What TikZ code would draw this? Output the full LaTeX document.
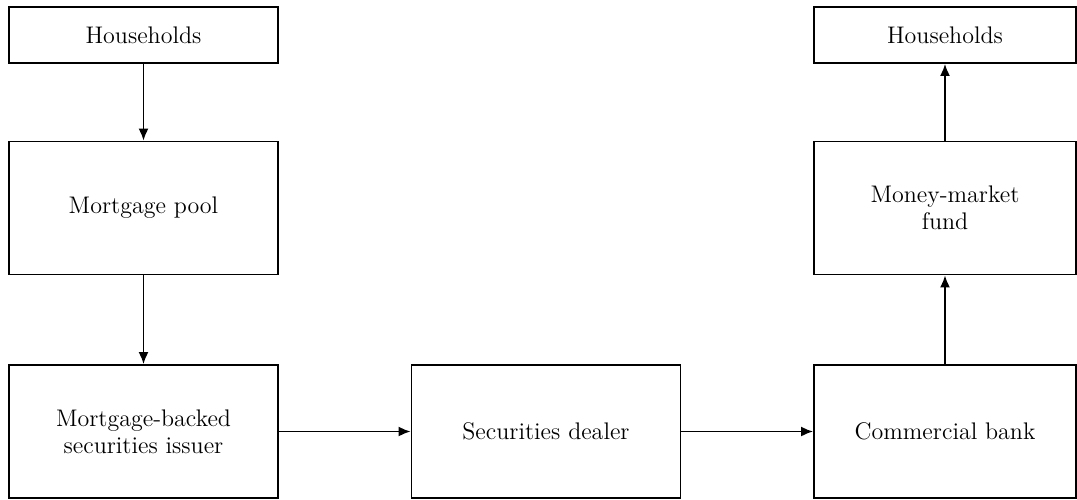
\documentclass[tikz,border=0pt]{standalone}
\usepackage{tikz}
\usetikzlibrary{arrows.meta,positioning}

\begin{document}
\begin{tikzpicture}[x=0.5pt, y=-0.5pt, line width=0.9pt, >={Latex[length=6pt,width=5pt]},
  every node/.style={rectangle,draw,align=center,font=\fontsize{12}{13.5}\selectfont,inner sep=0pt},
  small/.style={minimum width=134.5pt,minimum height=28pt},
  big/.style={minimum width=134.5pt,minimum height=66.5pt}]
\useasboundingbox (0,0) rectangle (1077,499);
% Define all the nodes.
% Households (left)
\node[small] (hh_left) at (143.5,35) {Households};
% Mortgage pool
\node[big] (pool) at (143.5,208) {Mortgage pool};
% MBS issuer
\node[big] (mbs) at (143.5,431.5) {Mortgage-backed\\securities issuer};
% Securities dealer
\node[big] (dealer) at (546,431.5) {Securities dealer};
% Commercial bank
\node[big, minimum width=131pt] (bank) at (945,431.5) {Commercial bank};
% Money-market fund
\node[big, minimum width=131pt] (mmf) at (945,208) {Money-market\\fund};
% Households (right)
\node[small, minimum width=131pt] (hh_right) at (945,35) {Households};
% Draw the arrows
\draw[->] (hh_left) -- (pool);
\draw[->] (pool) -- (mbs);
\draw[->] (mbs) -- (dealer);
\draw[->] (dealer) -- (bank);
\draw[->] (bank) -- (mmf);
\draw[->] (mmf) -- (hh_right);
\end{tikzpicture}
\end{document}
